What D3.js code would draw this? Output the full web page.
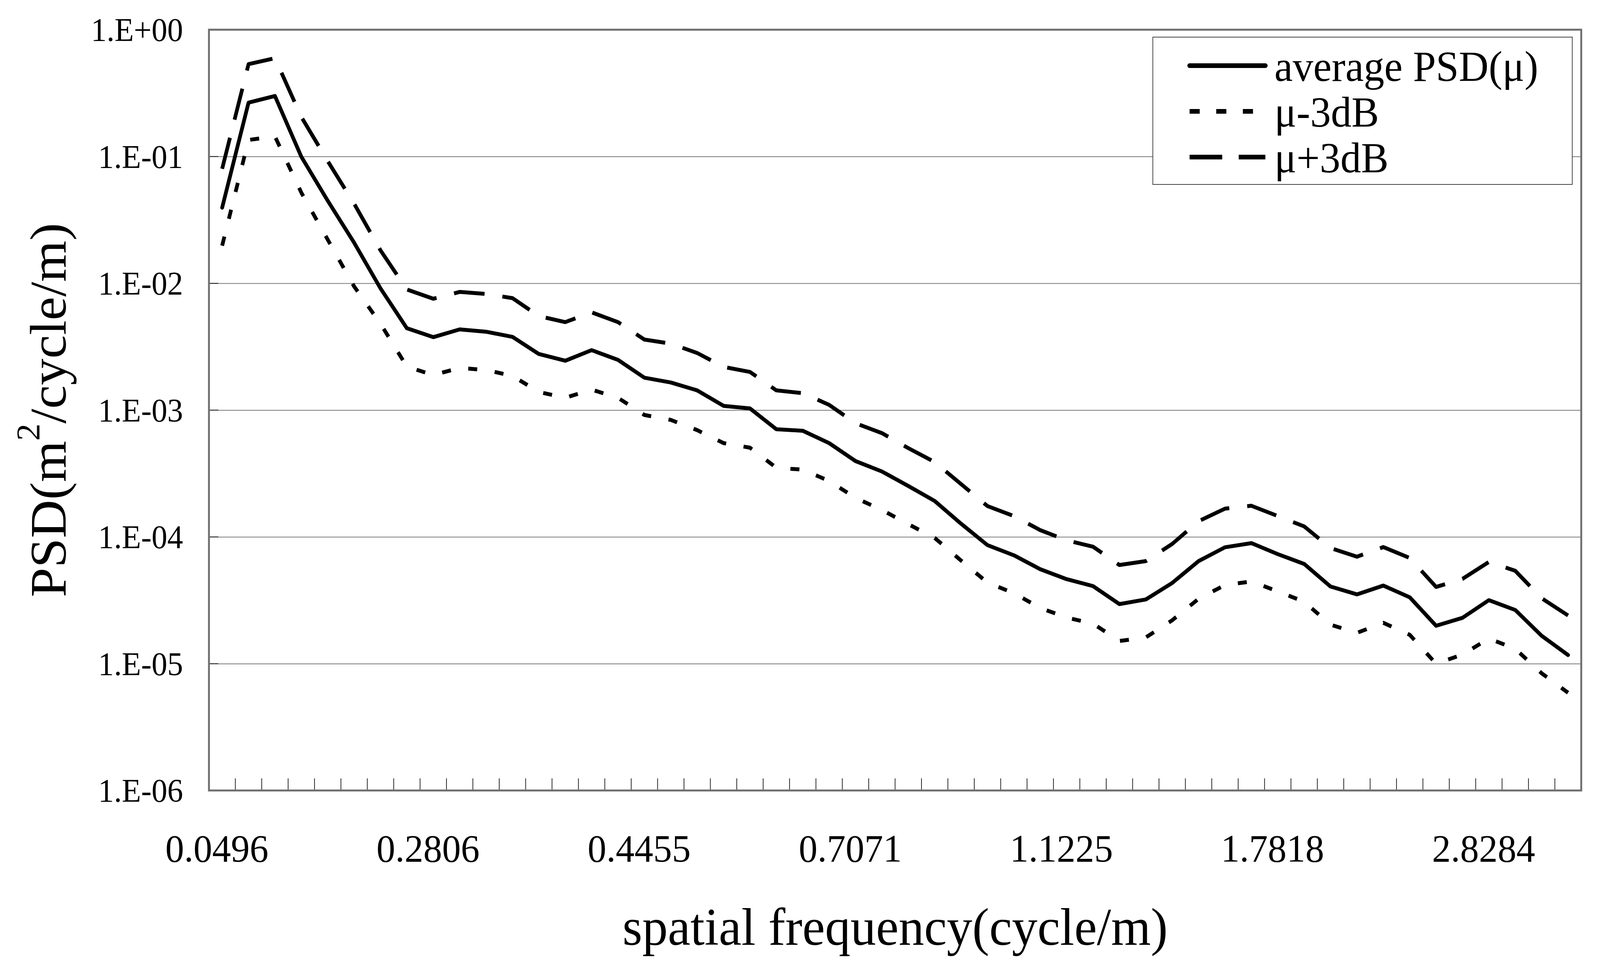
<!DOCTYPE html>
<html>
<head>
<meta charset="utf-8">
<script src="https://cdn.jsdelivr.net/npm/d3@7"></script>
<style>
  html, body { margin: 0; padding: 0; background: #fff; overflow: hidden; }
  svg { display: block; width: 100vw; height: 100vh; font-family: "Liberation Serif", "Times New Roman", serif; }
</style>
</head>
<body>
<svg id="chart" viewBox="0 0 4265 2485" preserveAspectRatio="none"></svg>
<script>
// values (one point per category, 52 categories)
var avgPSD = [0.0395, 0.266, 0.300, 0.0996, 0.0448, 0.0209, 0.00912, 0.00442, 0.00376, 0.00433,
    0.00415, 0.00378, 0.00277, 0.00245, 0.00297, 0.00249, 0.00180, 0.00165, 0.00143, 0.00108,
    0.00103, 0.000706, 0.000687, 0.000549, 0.000396, 0.000328, 0.000252, 0.000192, 0.000127, 8.61e-5,
    7.16e-5, 5.56e-5, 4.64e-5, 4.09e-5, 2.95e-5, 3.21e-5, 4.33e-5, 6.44e-5, 8.28e-5, 8.93e-5,
    7.31e-5, 6.12e-5, 4.06e-5, 3.52e-5, 4.13e-5, 3.34e-5, 1.99e-5, 2.30e-5, 3.17e-5, 2.65e-5,
    1.66e-5, 1.17e-5];
var minus3dB = [0.0198, 0.135, 0.144, 0.0519, 0.0221, 0.00945, 0.0048, 0.0022, 0.00189, 0.00215,
    0.00207, 0.00186, 0.00139, 0.00125, 0.00145, 0.00125, 0.000915, 0.000837, 0.000695, 0.000549,
    0.000505, 0.000351, 0.000339, 0.000276, 0.000203, 0.000163, 0.000126, 9.82e-5, 6.5e-5, 4.36e-5,
    3.6e-5, 2.75e-5, 2.31e-5, 2.07e-5, 1.51e-5, 1.61e-5, 2.2e-5, 3.25e-5, 4.17e-5, 4.45e-5,
    3.72e-5, 3.08e-5, 2.03e-5, 1.75e-5, 2.1e-5, 1.69e-5, 1.0e-5, 1.18e-5, 1.58e-5, 1.31e-5,
    8.4e-6, 5.9e-6];
var plus3dB = [0.080, 0.535, 0.596, 0.205, 0.092, 0.0425, 0.0182, 0.00893, 0.00755, 0.00855,
    0.00824, 0.00764, 0.00551, 0.00494, 0.00590, 0.00494, 0.0036, 0.00334, 0.00282, 0.00219,
    0.0020, 0.00143, 0.00136, 0.0011, 0.000788, 0.000658, 0.000501, 0.000389, 0.000261, 0.000175,
    0.000146, 0.000113, 9.4e-5, 8.37e-5, 6.0e-5, 6.44e-5, 8.8e-5, 0.000133, 0.000167, 0.000176,
    0.000146, 0.000121, 8.16e-5, 6.98e-5, 8.31e-5, 6.82e-5, 4.03e-5, 4.66e-5, 6.34e-5, 5.4e-5,
    3.28e-5, 2.40e-5];

var xLabels = ['0.0496', '0.2806', '0.4455', '0.7071', '1.1225', '1.7818', '2.8284'];
var xLabelIndex = [0, 8, 16, 24, 32, 40, 48];
var yTicks = [1, 1e-1, 1e-2, 1e-3, 1e-4, 1e-5, 1e-6];
var yTickLabels = ['1.E+00', '1.E-01', '1.E-02', '1.E-03', '1.E-04', '1.E-05', '1.E-06'];
var seriesNames = ['average PSD(\u03bc)', '\u03bc-3dB', '\u03bc+3dB'];

var margin = { top: 76, right: 50, bottom: 462, left: 557 };
var W = 4265, H = 2485;
var width = W - margin.left - margin.right;
var height = H - margin.top - margin.bottom;

var svg = d3.select('#chart');
svg.append('rect').attr('width', W).attr('height', H).attr('fill', '#fff');

var g = svg.append('g').attr('transform', 'translate(' + margin.left + ',' + margin.top + ')');

var x = d3.scaleBand().domain(d3.range(avgPSD.length)).range([0, width]).paddingInner(0).paddingOuter(0);
var y = d3.scaleLog().domain([1e-6, 1]).range([height, 0]);

function cx(i) { return x(i) + x.bandwidth() / 2; }

// gridlines + y labels
var yAxis = g.append('g')
    .call(d3.axisLeft(y).tickValues(yTicks)
        .tickFormat(function (d, i) { return yTickLabels[i]; })
        .tickSizeInner(-width).tickSizeOuter(0).tickPadding(69));
yAxis.select('.domain').remove();
yAxis.selectAll('line').attr('stroke', '#7a7a7a').attr('stroke-width', 2);
yAxis.selectAll('text')
    .attr('font-size', 84)
    .attr('font-family', '"Liberation Serif", serif')
    .attr('fill', '#000')
    .attr('dy', '0.34em');

// short inward ticks on the value axis
g.selectAll('.ytick').data(yTicks).enter().append('line')
    .attr('class', 'ytick')
    .attr('x1', 0).attr('x2', 25)
    .attr('y1', function (d) { return y(d); }).attr('y2', function (d) { return y(d); })
    .attr('stroke', '#222').attr('stroke-width', 2);

// category tick marks (inside, at category boundaries)
g.selectAll('.xtick').data(d3.range(1, avgPSD.length)).enter().append('line')
    .attr('class', 'xtick')
    .attr('x1', function (d) { return x(d); }).attr('x2', function (d) { return x(d); })
    .attr('y1', height).attr('y2', height - 31)
    .attr('stroke', '#222').attr('stroke-width', 2);

// category labels
var xAxis = g.append('g')
    .attr('transform', 'translate(0,' + height + ')')
    .call(d3.axisBottom(x).tickValues(xLabelIndex)
        .tickFormat(function (d, i) { return xLabels[i]; })
        .tickSize(0));
xAxis.select('.domain').remove();
xAxis.selectAll('text')
    .attr('font-size', 100)
    .attr('font-family', '"Liberation Serif", serif')
    .attr('fill', '#000')
    .attr('y', 182).attr('dy', null).attr('x', -14);

// lines
var line = d3.line()
    .x(function (d, i) { return cx(i); })
    .y(function (d) { return y(d); });

var styles = [
    { data: avgPSD, dash: null, cap: 'round' },
    { data: minus3dB, dash: '24,47', cap: 'butt' },
    { data: plus3dB, dash: '82,48', cap: 'butt' }
];

styles.forEach(function (s) {
    g.append('path')
        .datum(s.data)
        .attr('fill', 'none')
        .attr('stroke', '#000')
        .attr('stroke-width', 10)
        .attr('stroke-linejoin', 'round')
        .attr('stroke-linecap', s.cap)
        .attr('stroke-dasharray', s.dash)
        .attr('d', line);
});

// plot frame
g.append('rect')
    .attr('x', 0).attr('y', 0).attr('width', width).attr('height', height)
    .attr('fill', 'none').attr('stroke', '#6e6e6e').attr('stroke-width', 5);

// legend
var legend = svg.append('g').attr('transform', 'translate(3073,95)');
legend.append('rect')
    .attr('width', 1118).attr('height', 377)
    .attr('fill', '#fff').attr('stroke', '#444').attr('stroke-width', 2);
var rowY = [73, 190, 307];
styles.forEach(function (s, i) {
    legend.append('line')
        .attr('x1', 98).attr('x2', 300)
        .attr('y1', rowY[i]).attr('y2', rowY[i])
        .attr('stroke', '#000').attr('stroke-width', 12)
        .attr('stroke-linecap', s.cap)
        .attr('stroke-dasharray', s.dash ? (i === 1 ? '27,44' : '87,44') : null);
    legend.append('text')
        .attr('x', 324).attr('y', rowY[i] + 39)
        .attr('font-size', 110)
        .attr('fill', '#000')
        .text(seriesNames[i]);
});

// axis titles
svg.append('text')
    .attr('x', margin.left + width / 2).attr('y', 2418)
    .attr('text-anchor', 'middle')
    .attr('font-size', 136)
    .text('spatial frequency(cycle/m)');

var yTitle = svg.append('text')
    .attr('transform', 'translate(175,' + (margin.top + height / 2) + ') rotate(-90)')
    .attr('text-anchor', 'middle')
    .attr('font-size', 136);
yTitle.append('tspan').text('PSD(m');
yTitle.append('tspan').attr('font-size', 88).attr('dy', -70).text('2');
yTitle.append('tspan').attr('dy', 70).text('/cycle/m)');
</script>
</body>
</html>
